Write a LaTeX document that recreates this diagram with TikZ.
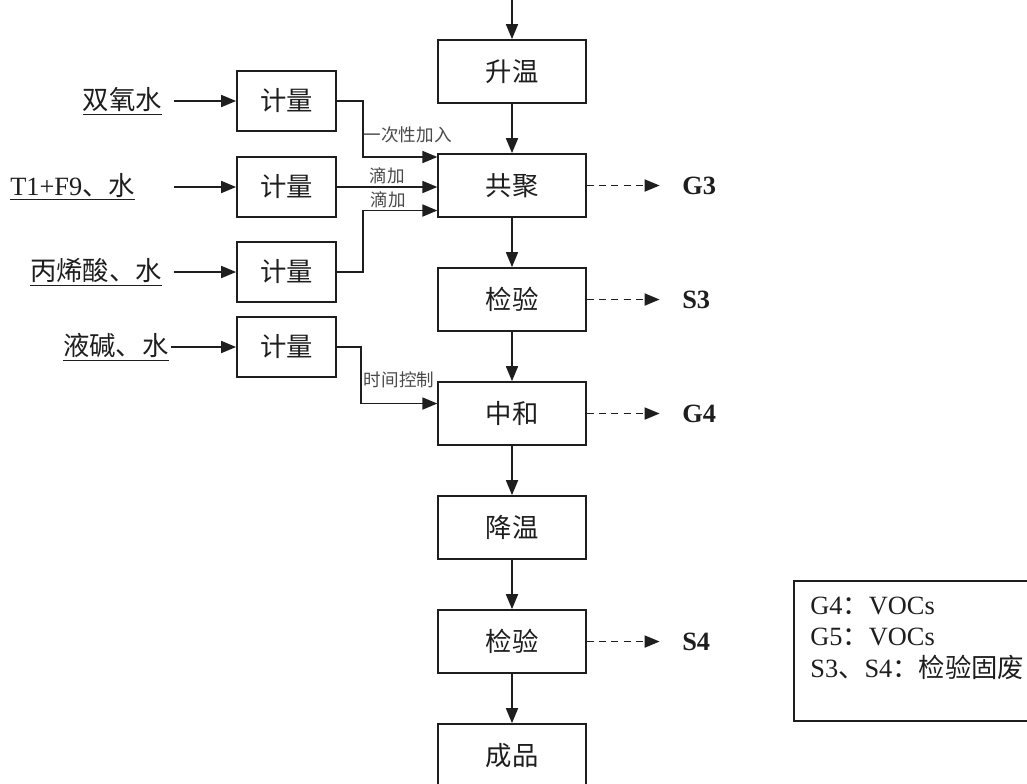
\documentclass[tikz,border=0pt]{standalone}
\usepackage{fontspec}
\setmainfont{Liberation Serif}
\newfontfamily\cjk{Noto Sans CJK SC}
\usetikzlibrary{arrows.meta,positioning}
\definecolor{ink}{HTML}{1E1E1E}
\definecolor{muted}{HTML}{4A4A4A}
\newcommand{\BoxW}{2.95cm}

\begin{document}
\begin{tikzpicture}[ink, node distance=0.985cm,
    stage/.style={draw=ink, line width=1pt, fill=white, minimum width=\BoxW, minimum height=1.26cm, font=\cjk\fontsize{15pt}{18pt}\selectfont},
    meter/.style={stage, minimum width=1.98cm, minimum height=1.2cm},
    feed/.style={inner sep=1pt, font=\fontsize{15pt}{18pt}\selectfont},
    note/.style={text=muted, inner sep=1pt, font=\cjk\fontsize{10pt}{12pt}\selectfont},
    waste/.style={inner sep=3pt, font=\bfseries\fontsize{15pt}{18pt}\selectfont},
    flow/.style={-{Triangle[length=0.3cm,width=0.24cm]}, line width=1pt, draw=ink},
    drain/.style={flow, dashed, dash pattern=on 4pt off 3pt, shorten >=0.34cm},
  ]
% --- Page ----------------------------------------------------------------------
\fill[white] (0,0) rectangle (20.54,-15.66);
\useasboundingbox (0,0) rectangle (20.54,-15.66);

% --- Main line -------------------------------------------------------------------
\coordinate (feedtop) at (10.24,0);
\node[stage] (warm) at (10.24,-1.43) {升温};
\node[stage, below=of warm] (copoly) {共聚};
\node[stage, below=of copoly] (inspect) {检验};
\node[stage, below=of inspect] (neutral) {中和};
\node[stage, below=of neutral] (cool) {降温};
\node[stage, below=of cool] (recheck) {检验};
\node[stage, below=of recheck] (product) {成品};

\draw[flow] (feedtop) -- (warm);
\foreach \a/\b in {warm/copoly,copoly/inspect,inspect/neutral,neutral/cool,cool/recheck,recheck/product}
  \draw[flow] (\a) -- (\b);

% --- Metering ----------------------------------------------------------------------
\foreach \i/\y in {1/-2.02,2/-3.74,3/-5.44,4/-6.94}
  \node[meter] (meter\i) at (5.73,\y) {计量};
\foreach \i/\d in {1/1.24,2/1.24,3/1.24,4/1.3}
  \coordinate (src\i) at ([xshift=-\d cm]meter\i.west);

\node[feed, left=0.2cm of src1] (in1) {\underline{\cjk 双氧水}};
\node[feed, left=0.74cm of src2] (in2) {\underline{T1+F9{\cjk 、水}}};
\node[feed, left=0.2cm of src3] (in3) {\underline{\cjk 丙烯酸、水}};
\node[feed, left=0.01cm of src4] (in4) {\underline{\cjk 液碱、水}};

\foreach \i in {1,...,4}
  \draw[flow] (src\i) -- (meter\i.west);

\draw[flow] (meter1.east) -- ++(0.52,0) |- node[note, pos=0.3, anchor=west, inner sep=0pt] {一次性加入} ([yshift=0.57cm]copoly.west);
\draw[flow] (meter2.east) -- node[note, above] {滴加} (meter2.east -| copoly.west);
\draw[flow] (meter3.east) -- ++(0.52,0) |- node[note, above, pos=0.67] {滴加} ([yshift=-0.5cm]copoly.west);
\draw[flow] (meter4.east) -- ++(0.48,0) |- node[note, above=0.25cm, pos=0.75] {时间控制} ([yshift=0.2cm]neutral.west);

% --- Emissions -----------------------------------------------------------------------
\node[waste, right=1.8cm of copoly] (g3) {G3};
\node[waste, right=1.8cm of inspect] (s3) {S3};
\node[waste, right=1.8cm of neutral] (g4) {G4};
\node[waste, right=1.8cm of recheck] (s4) {S4};
\draw[drain] (copoly.east) -- (g3.west);
\draw[drain] (inspect.east) -- (s3.west);
\draw[drain] (neutral.east) -- (g4.west);
\draw[drain] (recheck.east) -- (s4.west);

% --- Legend --------------------------------------------------------------------------
\node[draw=ink, line width=1pt, anchor=north west, minimum width=5cm, minimum height=2.8cm] (legend) at (15.86,-11.6) {};
\node[anchor=north west, align=left, inner sep=0pt, font=\fontsize{15pt}{18pt}\selectfont] (legtext) at (16.2,-11.93)
  {G4{\cjk ：}VOCs\\G5{\cjk ：}VOCs\\S3{\cjk 、}S4{\cjk ：检验固废}};
\end{tikzpicture}
\end{document}
